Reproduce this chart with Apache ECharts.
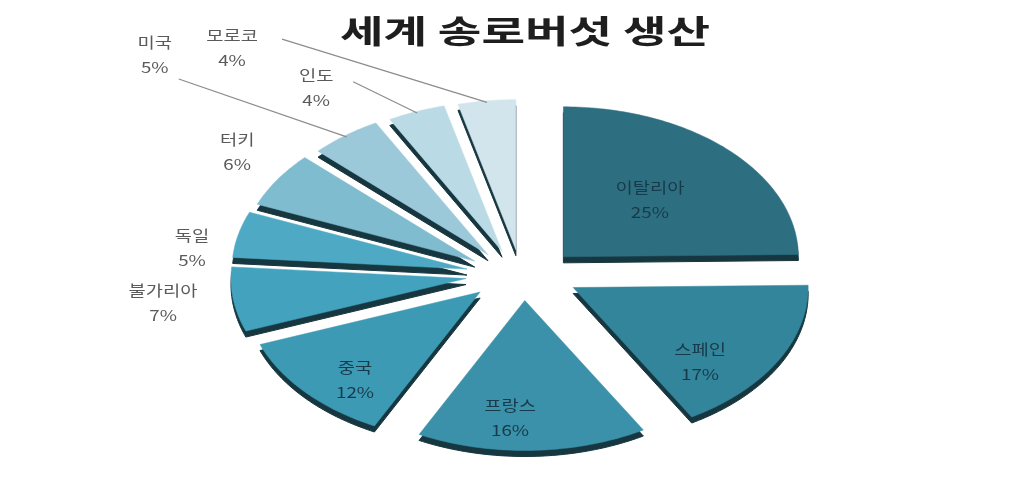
<!DOCTYPE html>
<html>
<head>
<meta charset="utf-8">
<script src="https://cdn.jsdelivr.net/npm/echarts@6/dist/echarts.min.js"></script>
<style>
  html, body { margin: 0; padding: 0; background: #ffffff; }
  #chart { width: 1034px; height: 485px; }
</style>
</head>
<body>
<div id="chart"></div>
<script>
// 세계 송로버섯 생산 — 국가별 점유율 (%)
const categories = ['이탈리아', '스페인', '프랑스', '중국', '불가리아', '독일', '터키', '미국', '인도', '모로코'];
const shares = [25, 17, 16, 12, 7, 5, 6, 5, 4, 4];
const sliceColors = ['#2d6f81', '#33859b', '#3a91a9', '#3d9ab4', '#43a3be', '#4eaac4', '#80bcd0', '#9cc9da', '#badae5', '#d3e5ec'];

// label placement around the tilted pie: angle (deg, clockwise from top), radius factor,
// whether the label sits inside the slice, and an optional leader-line start offset (px)
const labelLayout = [
  { a: 47.2, r: 0.736, inside: true },
  { a: 127.6, r: 0.951, inside: true },
  { a: 183.3, r: 0.955, inside: true },
  { a: 225.6, r: 1.0, inside: true },
  { a: 263, r: 1.543 },
  { a: 277.3, r: 1.42 },
  { a: 304, r: 1.467 },
  { a: 313.1, r: 2.146, line: [24, 24] },
  { a: 324.8, r: 1.527, line: [37, -6] },
  { a: 320.7, r: 1.955, line: [50, -9] }
];

const total = shares.reduce((s, v) => s + v, 0);
const cumulative = [];
shares.reduce((acc, v, i) => { cumulative[i] = acc; return acc + v; }, 0);

const EXPLODE_X = 0.245;  // slice offset from the centre, in axis units
const EXPLODE_Y = 0.17;
const DEPTH = 6;          // visible thickness of the pie, px
const rad = d => d * Math.PI / 180;

function renderSlice(params, api) {
  const i = params.dataIndex;
  const v = api.value(0);
  const a0 = cumulative[i] / total * 360;
  const a1 = a0 + v / total * 360;
  const mid = (a0 + a1) / 2;
  const ex = EXPLODE_X * Math.sin(rad(mid));
  const ey = EXPLODE_Y * Math.cos(rad(mid));

  const pts = [api.coord([ex, ey])];
  const steps = Math.max(2, Math.ceil(a1 - a0));
  for (let k = 0; k <= steps; k++) {
    const a = rad(a0 + (a1 - a0) * k / steps);
    pts.push(api.coord([ex + Math.sin(a), ey + Math.cos(a)]));
  }
  const sidePts = pts.map(p => [p[0], p[1] + DEPTH]);

  const lay = labelLayout[i];
  const lp = api.coord([lay.r * Math.sin(rad(lay.a)), lay.r * Math.cos(rad(lay.a))]);
  const pct = v + '%';

  const children = [
    {
      type: 'polygon', z2: 1,
      shape: { points: sidePts },
      style: { fill: '#163640', stroke: '#163640', lineWidth: 1 }
    },
    {
      type: 'polygon', z2: 5,
      shape: { points: pts },
      style: { fill: sliceColors[i], stroke: sliceColors[i], lineWidth: 0.5 }
    },
    {
      type: 'text', z2: 20,
      x: lp[0], y: lp[1], scaleX: 1.25,
      style: {
        text: categories[i] + '\n' + pct,
        fill: lay.inside ? '#173a4a' : '#5a5a5a',
        font: '15px "Noto Sans CJK KR", sans-serif',
        align: 'center', verticalAlign: 'middle',
        lineHeight: 25
      }
    }
  ];

  if (lay.line) {
    const end = api.coord([ex + 0.99 * Math.sin(rad(mid)), ey + 0.99 * Math.cos(rad(mid))]);
    children.push({
      type: 'line', z2: 15,
      shape: { x1: lp[0] + lay.line[0], y1: lp[1] + lay.line[1], x2: end[0], y2: end[1] },
      style: { stroke: '#8c8c8c', lineWidth: 1.2 }
    });
  }

  return { type: 'group', children };
}

const chart = echarts.init(document.getElementById('chart'), null, { renderer: 'canvas' });
chart.setOption({
  animation: false,
  backgroundColor: '#ffffff',
  graphic: [{
    type: 'text',
    x: 525, y: 31, scaleX: 1.48,
    style: {
      text: '세계 송로버섯 생산',
      fill: '#1e1e1e',
      font: 'bold 32px "Noto Sans CJK KR", sans-serif',
      align: 'center', verticalAlign: 'middle'
    }
  }],
  grid: { left: 288, top: 125, width: 470, height: 300 },
  xAxis: { type: 'value', min: -1, max: 1, show: false },
  yAxis: { type: 'value', min: -1, max: 1, show: false },
  series: [{
    type: 'custom',
    coordinateSystem: 'cartesian2d',
    clip: false,
    renderItem: renderSlice,
    encode: { x: -1, y: -1 },
    data: shares.map((v, i) => ({ name: categories[i], value: [v] }))
  }]
});
</script>
</body>
</html>
